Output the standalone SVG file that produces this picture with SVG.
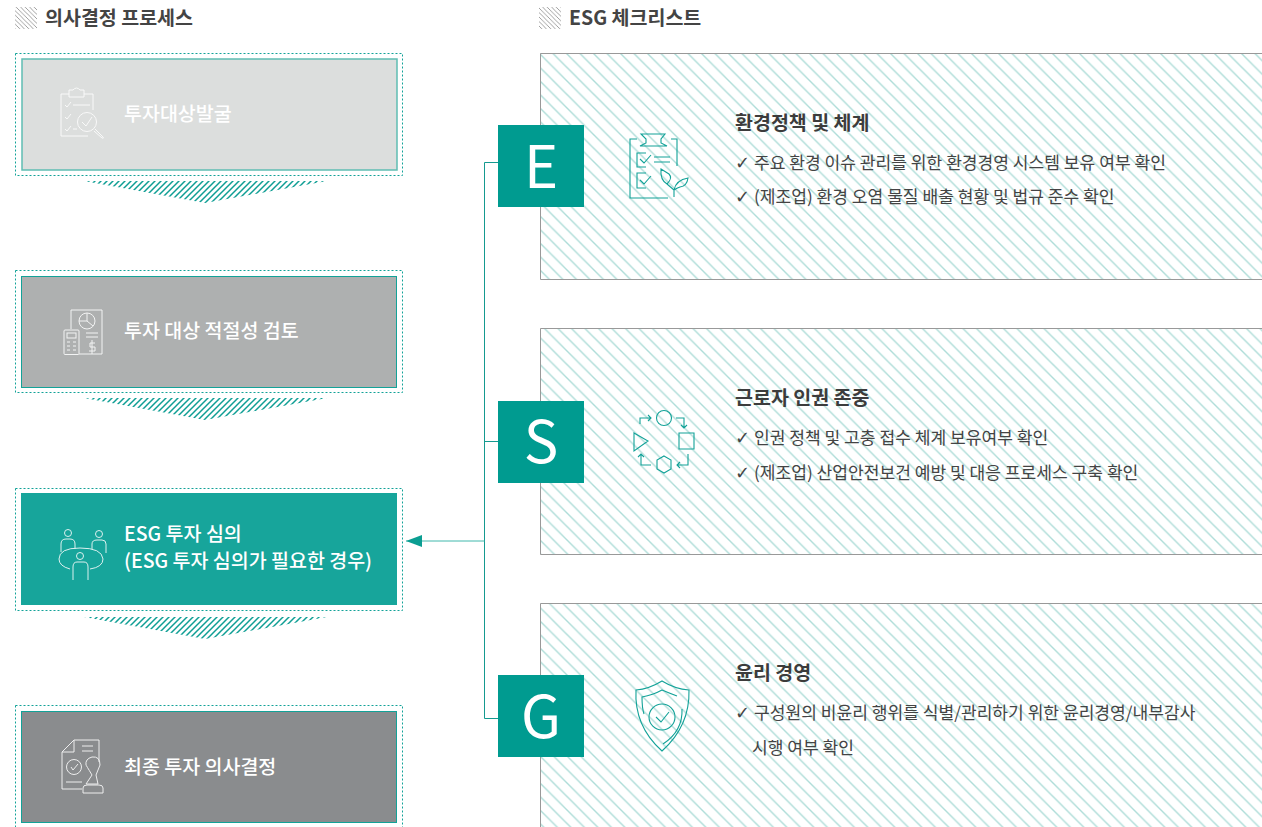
<svg xmlns="http://www.w3.org/2000/svg" width="1262" height="827" viewBox="0 0 1262 827">
<style>
text{font-family:"Noto Sans CJK KR","Noto Sans",sans-serif}
.h{font-size:19.500px;font-weight:700;fill:#444}
.w{font-size:19.500px;font-weight:500;fill:#fff}
.t{font-size:19.500px;font-weight:700;fill:#3c3c3c}
.b{font-size:17.100px;font-weight:400;fill:#444}
.c{font-family:"DejaVu Sans",sans-serif;font-size:18px}
.l{font-size:58px;font-weight:400;fill:#fff;text-anchor:middle}
.dash{fill:none;stroke:#12a298;stroke-width:1;stroke-dasharray:2 2}
.box{stroke:#12a298;stroke-width:1}
.ic{fill:none;stroke:#fff;stroke-width:1;opacity:.85}
.ig{fill:none;stroke:#12a298;stroke-width:1.100}
.pf{fill:url(#panelHatch)}
.panel{fill:none;stroke:#999;stroke-width:1}
.sq{fill:#009b90}
.conn{fill:none;stroke:#159a90;stroke-width:1}
</style>
<defs>
<pattern id="panelHatch" width="13.500" height="13.500" patternUnits="userSpaceOnUse"><path d="M0 0 13.500 13.500M12.500 -1 14.500 1M-1 12.500 1 14.500" stroke="#aedcd8" stroke-width="1.400" fill="none"/></pattern>
<pattern id="headHatch" width="4.500" height="4.500" patternUnits="userSpaceOnUse"><path d="M0 0 4.500 4.500M3.500 -1 5.500 1M-1 3.500 1 5.500" stroke="#888" stroke-width=".8"/></pattern>
<pattern id="arrowHatch" width="6" height="6" patternUnits="userSpaceOnUse"><path d="M-1 1 1 -1M0 6 6 0M5 7 7 5" stroke="#0f9e94" stroke-width="1.500"/></pattern>
<marker id="ah" markerUnits="userSpaceOnUse" markerWidth="17" markerHeight="12" refX="16" refY="6" orient="auto"><path d="M0 0 16 6 0 12Z" fill="#0b9e92"/></marker>
</defs>

<rect width="1262" height="827" fill="#fff"/>

<g id="head-left"><rect x="15" y="7" width="22" height="22" fill="url(#headHatch)"/><text class="h" x="45" y="25">의사결정 프로세스</text></g>
<g id="head-right"><rect x="539" y="7" width="22" height="22" fill="url(#headHatch)"/><text class="h" x="569" y="25">ESG 체크리스트</text></g>

<g id="step1">
<rect class="dash" x="15.500" y="53.500" width="387" height="122"/>
<rect x="22" y="59" width="375" height="111" fill="#dcdedd" stroke="#5fbdb2" stroke-width="1.500"/>
<g class="ic"><path d="M69 94H61V136H88M93 110V94H84M69 94V90H73Q76.500 86 80 90H84V97H69ZM65 105 67 107 71 102M73 105H90M65 117 67 119 71 114M65 129 67 131 71 126M73 129H77"/><circle cx="87" cy="122" r="9.500"/><path d="M82 122 86 126 92 117"/><path d="M95 129 102 136Q105 139 102 138 L94 131"/></g>
<text class="w" x="124" y="121">투자대상발굴</text>
</g>
<path id="arrow1" d="M84 181H327L205 203Z" fill="url(#arrowHatch)"/>

<g id="step2">
<rect class="dash" x="15.500" y="270.500" width="387" height="122"/>
<rect class="box" x="21.500" y="276.500" width="375" height="111" fill="#aeb0b0"/>
<g class="ic"><path d="M71 329V310H102V354H79"/><circle cx="87" cy="321" r="8"/><path d="M87 313V321L93 326M79 321H87"/><rect x="64" y="330" width="15" height="24.500" rx="1"/><rect x="67" y="333" width="9" height="5"/><path d="M67 342H70M73 342H76M67 346H70M73 346H76M67 350H70M73 350H76M86 333H98M86 337H98M92 340V354M95 343H90V347H95V351H89"/></g>
<text class="w" x="124" y="338">투자 대상 적절성 검토</text>
</g>
<path id="arrow2" d="M84 398H327L205 420Z" fill="url(#arrowHatch)"/>

<g id="step3">
<rect class="dash" x="15.500" y="488.500" width="387" height="122"/>
<rect x="21" y="493" width="376" height="112" fill="#17a59b"/>
<g class="ic"><circle cx="68" cy="533" r="3.500"/><circle cx="99" cy="534" r="3.500"/><circle cx="80" cy="556" r="3.500"/><path d="M61 552V544Q61 539 66 539H70Q75 539 75 544V549M92 549V544Q92 540 97 540H102Q106 540 106 544V553M59 559Q59 548 80 548 102 548 103 559 103 567 90 569M70 569Q59 566 59 559M73 580V567Q73 562 77 562H84Q88 562 88 567V580"/></g>
<text class="w" x="124" y="541">ESG 투자 심의</text>
<text class="w" x="124" y="568">(ESG 투자 심의가 필요한 경우)</text>
</g>
<path id="arrow3" d="M84 617H327L205 639Z" fill="url(#arrowHatch)"/>

<g id="step4">
<rect class="dash" x="15.500" y="705.500" width="387" height="122"/>
<rect class="box" x="21.500" y="711.500" width="375" height="111" fill="#8a8c8e"/>
<g class="ic"><path d="M62 752V789H82M62 752 74 740H99V762M74 740V752H62M82 746H93M82 751H93M66 782H82M92 775Q86 765 86 765 85 759 92 757 100 756 100 765L96 775 98 784H86ZM83 788Q83 785 87 785H99Q103 785 103 788V793H83Z"/><circle cx="74" cy="767" r="7.500"/><path d="M71 767 73 770 78 764"/></g>
<text class="w" x="124" y="774">최종 투자 의사결정</text>
</g>

<g id="connectors">
<path class="conn" d="M498 162.500H484.500V718.500H498"/>
<path class="conn" d="M484.500 441.500H498"/>
<path d="M484.500 541H406" fill="none" stroke="#40b8ac" stroke-width="1" marker-end="url(#ah)"/>
</g>

<g id="panel-e">
<rect class="pf" x="540" y="53" width="722" height="226"/>
<path class="panel" d="M1262 53.500H540.500V279.500H1262"/>
<rect class="sq" x="498" y="125" width="86" height="82"/>
<text class="l" x="541" y="188">E</text>
<g class="ig"><path d="M637 139H630V198H668M671 139H677V166M641 134H665L661 139V143L667 146H640L646 143V139ZM654 157H670M654 162H670M646 153H637V167H646M646 173H637V188H646M640 159 644 163 651 155M640 180 644 184 651 176M661 169Q660 180 667 184 673 178 669 174ZM667 184 674 190V197M674 190Q676 180 688 178 687 186 680 187 677 188 674 190"/></g>
<text class="t" x="735" y="130">환경정책 및 체계</text>
<text class="b" x="735" y="169"><tspan class="c">✓ </tspan><tspan x="754">주요 환경 이슈 관리를 위한 환경경영 시스템 보유 여부 확인</tspan></text>
<text class="b" x="735" y="203"><tspan class="c">✓ </tspan><tspan x="754">(제조업) 환경 오염 물질 배출 현황 및 법규 준수 확인</tspan></text>
</g>

<g id="panel-s">
<rect class="pf" x="540" y="328" width="722" height="226"/>
<path class="panel" d="M1262 328.500H540.500V554.500H1262"/>
<rect class="sq" x="498" y="401" width="86" height="82"/>
<text class="l" x="541" y="463">S</text>
<g class="ig"><circle cx="664" cy="418" r="7.500"/><path d="M634 433 648 441 634 451ZM679 433H694V449H679ZM664 456 671 460V469L664 473 657 469V460ZM640 424V418H651M648 415 651 418 648 421M676 418H684V428M681 425 684 428 687 425M688 454V465H677M680 462 677 465 680 468M651 465H641V454M638 457 641 454 644 457"/></g>
<text class="t" x="735" y="405">근로자 인권 존중</text>
<text class="b" x="735" y="444"><tspan class="c">✓ </tspan><tspan x="754">인권 정책 및 고충 접수 체계 보유여부 확인</tspan></text>
<text class="b" x="735" y="479"><tspan class="c">✓ </tspan><tspan x="754">(제조업) 산업안전보건 예방 및 대응 프로세스 구축 확인</tspan></text>
</g>

<g id="panel-g">
<rect class="pf" x="540" y="603" width="722" height="224"/>
<path class="panel" d="M1262 603.500H540.500V827"/>
<rect class="sq" x="498" y="675" width="86" height="82"/>
<text class="l" x="541" y="738">G</text>
<g class="ig"><path d="M662 681Q649 689 636 690 634 726 662 751 690 726 689 690 675 689 662 681ZM677 696Q669 693 662 690 653 695 642 697 642 708 644 714M682 709Q683 731 663 744"/><circle cx="662" cy="717" r="13"/><path d="M656 717 661 722 669 712"/></g>
<text class="t" x="735" y="680">윤리 경영</text>
<text class="b" x="735" y="719"><tspan class="c">✓ </tspan><tspan x="754">구성원의 비윤리 행위를 식별/관리하기 위한 윤리경영/내부감사</tspan></text>
<text class="b" x="752" y="754">시행 여부 확인</text>
</g>
</svg>
